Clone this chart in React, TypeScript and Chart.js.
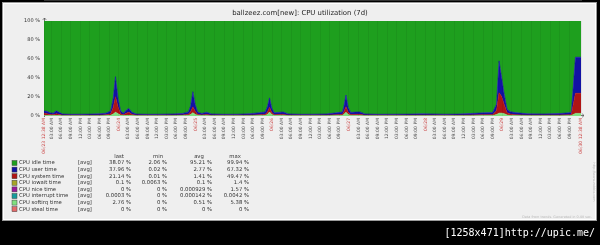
import { useEffect, useRef } from 'react';
import { Chart, registerables } from 'chart.js';

Chart.register(...registerables);

// hours since 06/23 00:00 (graph runs 06/23 00:38 -> 06/30 00:38)
const startHour = 0.633;
const endHour = 168.633;

const times = [
  0.63, 1.5, 2.5, 3.5, 4.5, 5.5, 6.5, 9, 12, 15, 18, 20, 21.5, 22.3, 23.0, 23.8, 24.6, 25.5, 26.5, 27.2, 28.2, 29.5,
  33, 37, 41, 44, 45.8, 46.5, 47.2, 47.9, 48.7, 50, 51.5, 53,
  57, 61, 65, 68, 69.8, 70.5, 71.2, 71.9, 72.7, 74.5, 75.5, 77,
  81, 85, 89, 92, 94, 94.5, 95.1, 95.8, 96.6, 98, 99.5, 101,
  105, 110, 115, 119, 122,
  126, 130, 134, 138, 141, 142.2, 143.0, 143.8, 144.6, 145.5, 146.5, 148,
  152, 157, 162, 165.6, 166.9, 168.633,
];
const softirqValues = [
  0.6, 0.5, 0.4, 0.4, 0.6, 0.4, 0.3, 0.3, 0.3, 0.3, 0.3, 0.4, 0.7, 2, 3.9, 2.5, 0.8, 0.4, 0.6, 0.7, 0.4, 0.3,
  0.3, 0.3, 0.3, 0.4, 0.6, 1.5, 3.5, 1.8, 0.6, 0.4, 0.4, 0.3,
  0.3, 0.3, 0.3, 0.4, 0.5, 1.5, 4.2, 1.5, 0.5, 0.5, 0.5, 0.3,
  0.3, 0.3, 0.3, 0.4, 0.5, 1.8, 3.9, 1.5, 0.5, 0.5, 0.5, 0.3,
  0.3, 0.3, 0.3, 0.3, 0.3,
  0.3, 0.3, 0.3, 0.4, 0.4, 1.5, 3.0, 3.0, 2.5, 1.0, 0.6, 0.4,
  0.3, 0.3, 0.3, 0.4, 2.76, 2.76,
];
const systemValues = [
  2.2, 2.0, 1.2, 1.0, 1.8, 1.2, 0.6, 0.5, 0.5, 0.5, 0.6, 0.8, 1.6, 7, 16.4, 7, 1.5, 0.8, 2.5, 3.2, 1.2, 0.6,
  0.5, 0.5, 0.6, 0.7, 1.2, 3, 6.1, 3.5, 1.1, 0.7, 1.2, 0.6,
  0.5, 0.5, 0.6, 0.9, 1.1, 2.5, 4.9, 2.2, 0.9, 1.2, 1.2, 0.6,
  0.5, 0.5, 0.6, 0.9, 1.1, 3, 5.9, 2.5, 1.0, 1.2, 1.3, 0.6,
  0.5, 0.5, 0.5, 0.6, 0.6,
  0.5, 0.5, 0.7, 0.9, 1.0, 4, 21.5, 17.5, 9.5, 2.5, 1.5, 1.0,
  0.6, 0.6, 0.7, 1.0, 21.14, 21.14,
];
const userValues = [
  2.4, 2.5, 1.8, 1.6, 3.0, 2.0, 1.2, 1.0, 1.1, 1.2, 1.4, 1.8, 3.0, 10, 21.1, 9, 3.0, 1.8, 3.5, 4.0, 2.2, 1.2,
  1.0, 1.1, 1.3, 1.6, 2.5, 6, 16, 7, 2.4, 1.6, 2.3, 1.3,
  1.0, 1.1, 1.5, 2.2, 2.6, 5.5, 10, 4.5, 2.0, 2.3, 2.4, 1.3,
  1.0, 1.1, 1.3, 2.0, 2.6, 6, 12.2, 5, 2.2, 2.4, 2.5, 1.3,
  1.0, 1.1, 1.2, 1.4, 1.3,
  1.1, 1.2, 1.6, 2.0, 2.2, 7, 33.5, 20, 11, 3.5, 2.5, 2.2,
  1.4, 1.3, 1.6, 2.2, 37.96, 37.96,
];
const idleValues = [
  94.8, 95.0, 96.6, 97.0, 94.6, 96.4, 97.9, 98.2, 98.1, 98.0, 97.7, 97.0, 94.7, 81, 58.6, 81.5, 94.7, 97.0, 93.4, 92.1, 96.2, 97.9,
  98.2, 98.1, 97.8, 97.3, 95.7, 89.5, 74.4, 87.7, 95.9, 97.3, 96.1, 97.8,
  98.2, 98.1, 97.6, 96.5, 95.8, 90.5, 80.9, 91.8, 96.6, 96.0, 95.9, 97.8,
  98.2, 98.1, 97.8, 96.7, 95.8, 89.2, 78.0, 91.0, 96.3, 95.9, 95.7, 97.8,
  98.2, 98.1, 98.0, 97.7, 97.8,
  98.1, 98.0, 97.4, 96.7, 96.4, 87.5, 42.0, 59.5, 77.0, 93.0, 95.4, 96.4,
  97.7, 97.8, 97.4, 96.4, 38.14, 38.14,
];

// legend table
const seriesNames = ['CPU idle time', 'CPU user time', 'CPU system time', 'CPU iowait time', 'CPU nice time', 'CPU interrupt time', 'CPU softirq time', 'CPU steal time'];
const seriesColors = ['#1e9f1e', '#1212a4', '#b01414', '#a6a626', '#9a189a', '#169a9a', '#7fe07f', '#e46a6a'];
const lastVals = ['38.07 %', '37.96 %', '21.14 %', '0.1 %', '0 %', '0.0003 %', '2.76 %', '0 %'];
const minVals = ['2.06 %', '0.02 %', '0.01 %', '0.0063 %', '0 %', '0 %', '0 %', '0 %'];
const avgVals = ['95.21 %', '2.77 %', '1.41 %', '0.1 %', '0.000929 %', '0.000142 %', '0.51 %', '0 %'];
const maxVals = ['99.94 %', '67.32 %', '49.47 %', '1.4 %', '1.57 %', '0.0042 %', '5.38 %', '0 %'];

// axis ticks
const yTickValues = [0, 20, 40, 60, 80, 100];
const hourLabels = ['03:00 AM', '06:00 AM', '09:00 AM', '12:00 PM', '03:00 PM', '06:00 PM', '09:00 PM'];
const dayLabels = ['06/24', '06/25', '06/26', '06/27', '06/28', '06/29'];
const startLabel = '06/23 12:38 AM';
const endLabel = '06/30 12:38 AM';

const titleText = 'ballzeez.com[new]: CPU utilization (7d)';

type XTick = { v: number; label: string; date: boolean };
const xTicks: XTick[] = [{ v: startHour, label: startLabel, date: true }];
for (let d = 0; d < 7; d++) {
  if (d > 0) xTicks.push({ v: 24 * d, label: dayLabels[d - 1], date: true });
  hourLabels.forEach((l, i) => xTicks.push({ v: 24 * d + 3 * (i + 1), label: l, date: false }));
}
xTicks.push({ v: endHour, label: endLabel, date: true });

const FONT = 'DejaVu Sans';

export default function App() {
  const ref = useRef<HTMLCanvasElement | null>(null);

  useEffect(() => {
    const canvas = ref.current;
    if (!canvas) return;

    const mk = (vals: number[]) => vals.map((y, i) => ({ x: times[i], y }));
    const stackOrder = [
      { idx: 6, vals: softirqValues },
      { idx: 2, vals: systemValues },
      { idx: 1, vals: userValues },
      { idx: 0, vals: idleValues },
    ];
    const datasets = stackOrder.map((s, k) => ({
      label: seriesNames[s.idx],
      data: mk(s.vals),
      backgroundColor: seriesColors[s.idx],
      borderColor: seriesColors[s.idx],
      borderWidth: 0.6,
      pointRadius: 0,
      tension: 0,
      fill: k === 0 ? 'origin' : '-1',
    }));

    const framePlugin = {
      id: 'frame',
      beforeDraw(chart: any) {
        const c = chart.ctx;
        c.save();
        c.fillStyle = '#000';
        c.fillRect(0, 0, 600, 245);
        c.fillStyle = '#efefef';
        c.fillRect(2, 2, 595, 219);
        c.strokeStyle = '#9a9a9a';
        c.lineWidth = 1;
        c.strokeRect(2.5, 2.5, 594, 218);
        c.strokeStyle = '#ffffff';
        c.strokeRect(3.5, 3.5, 592, 216);
        c.restore();
      },
      afterDraw(chart: any) {
        const c = chart.ctx;
        const a = chart.chartArea;
        c.save();
        // title
        c.fillStyle = '#222';
        c.font = `6.9px "${FONT}"`;
        c.textAlign = 'center';
        c.textBaseline = 'middle';
        c.fillText(titleText, 300, 13);

        // axis arrows
        c.strokeStyle = '#555';
        c.lineWidth = 0.8;
        c.beginPath();
        c.moveTo(a.left + 0.5, a.top);
        c.lineTo(a.left + 0.5, a.top - 3);
        c.moveTo(a.left - 1.2, a.top - 1.2);
        c.lineTo(a.left + 0.5, a.top - 3);
        c.lineTo(a.left + 2.2, a.top - 1.2);
        c.moveTo(a.right, a.bottom - 0.5);
        c.lineTo(a.right + 3, a.bottom - 0.5);
        c.moveTo(a.right + 1.2, a.bottom - 2.2);
        c.lineTo(a.right + 3, a.bottom - 0.5);
        c.lineTo(a.right + 1.2, a.bottom + 1.2);
        c.stroke();

        // legend table
        const f = `5.3px "${FONT}"`;
        c.font = f;
        c.fillStyle = '#333';
        c.textAlign = 'center';
        c.fillText('last', 119, 156.5);
        c.fillText('min', 158, 156.5);
        c.fillText('avg', 199, 156.5);
        c.fillText('max', 235, 156.5);
        seriesNames.forEach((name, i) => {
          const y = 163 + i * 6.6;
          c.fillStyle = seriesColors[i];
          c.fillRect(12, y - 2.5, 5, 5);
          c.strokeStyle = '#444';
          c.lineWidth = 0.5;
          c.strokeRect(12, y - 2.5, 5, 5);
          c.fillStyle = '#333';
          c.textAlign = 'left';
          c.fillText(name, 19, y);
          c.fillText('[avg]', 78, y);
          c.textAlign = 'right';
          c.fillText(lastVals[i], 131, y);
          c.fillText(minVals[i], 167, y);
          c.fillText(avgVals[i], 212, y);
          c.fillText(maxVals[i], 249, y);
        });

        // small footer texts
        c.fillStyle = '#b8b8b8';
        c.font = `3.4px "${FONT}"`;
        c.textAlign = 'right';
        c.fillText('Data from trends. Generated in 0.48 sec.', 592, 217);
        c.save();
        c.translate(593.5, 182);
        c.rotate(Math.PI / 2);
        c.textAlign = 'center';
        c.fillText('http://www.zabbix.com', 0, 0);
        c.restore();

        // image-host stamp
        c.fillStyle = '#ffffff';
        c.font = `10px "DejaVu Sans Mono"`;
        c.textAlign = 'right';
        c.textBaseline = 'middle';
        c.fillText('[1258x471]http://upic.me/', 595, 233);
        c.restore();
      },
    };

    const chart = new Chart(canvas, {
      type: 'line',
      data: { datasets: datasets as any },
      plugins: [framePlugin],
      options: {
        animation: false,
        responsive: false,
        devicePixelRatio: 1,
        layout: { padding: { top: 21, right: 19, left: 0, bottom: 0 } },
        plugins: {
          legend: { display: false },
          title: { display: false },
          tooltip: { enabled: false },
        },
        elements: { point: { radius: 0 } },
        scales: {
          x: {
            type: 'linear',
            min: startHour,
            max: endHour,
            afterFit: (s: any) => {
              s.height = 129;
            },
            afterBuildTicks: (s: any) => {
              s.ticks = xTicks.map((t) => ({ value: t.v }));
            },
            ticks: {
              autoSkip: false,
              minRotation: 90,
              maxRotation: 90,
              padding: 2,
              font: { size: 4.5, family: FONT },
              color: (ctx: any) => (xTicks[ctx.index] && xTicks[ctx.index].date ? '#cc4a4a' : '#555'),
              callback: (_v: any, i: number) => xTicks[i].label,
            },
            grid: { color: 'rgba(0,0,0,0.06)', drawTicks: false, z: 1 },
            border: { color: '#666', width: 1 },
          },
          y: {
            stacked: true,
            min: 0,
            max: 100,
            afterFit: (s: any) => {
              s.width = 44;
            },
            afterBuildTicks: (s: any) => {
              s.ticks = yTickValues.map((v) => ({ value: v }));
            },
            ticks: {
              padding: 4,
              font: { size: 5, family: FONT },
              color: '#333',
              callback: (v: any) => `${v} %`,
            },
            grid: { display: false, drawTicks: false },
            border: { color: '#666', width: 1 },
          },
        },
      },
    });

    return () => chart.destroy();
  }, []);

  return (
    <div style={{ position: 'absolute', left: 0, top: 0, width: 600, height: 245, background: '#000' }}>
      <canvas ref={ref} width={600} height={245} style={{ width: 600, height: 245, display: 'block' }} />
    </div>
  );
}
